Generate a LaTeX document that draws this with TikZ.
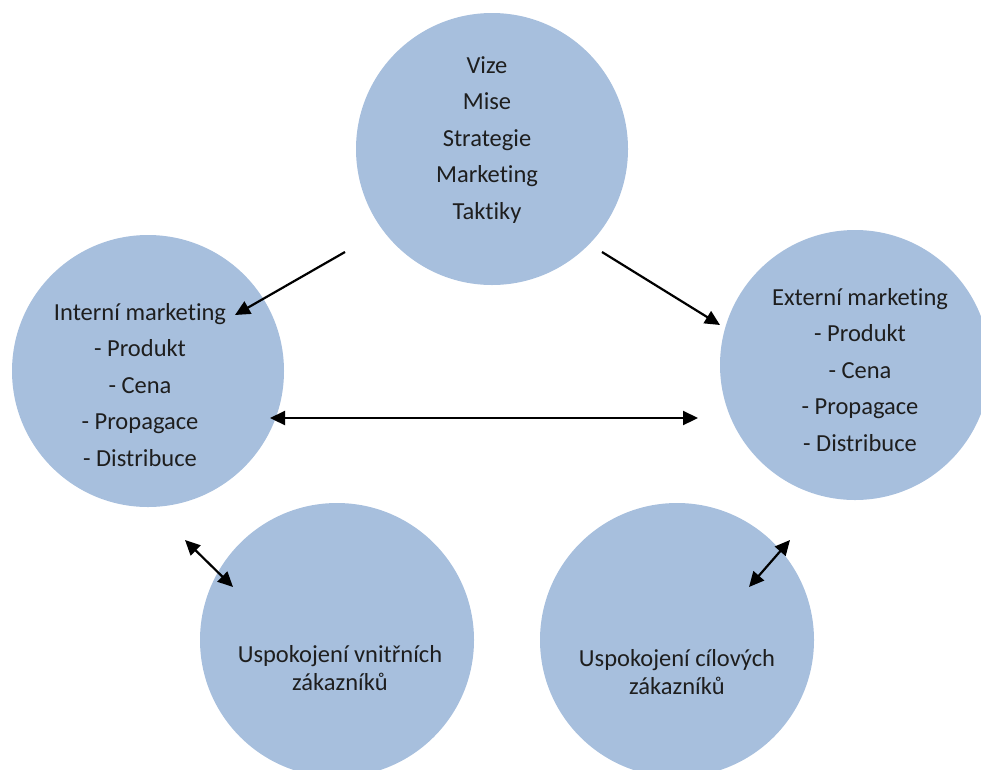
\documentclass[tikz,border=0pt]{standalone}
\usepackage{fontspec}
\setmainfont{Carlito}[Ligatures=NoCommon]
\usetikzlibrary{arrows.meta}
\definecolor{bub}{HTML}{A7BFDD}
\definecolor{txt}{HTML}{1E1E1E}
\tikzset{
  bubble/.style={circle, fill=bub, draw=none, inner sep=0pt},
  lbl/.style={align=center, text=txt, inner sep=0pt, font=\fontsize{24.5}{36.5}\selectfont},
  lbltwo/.style={align=center, text=txt, inner sep=0pt, font=\fontsize{24.5}{28}\selectfont},
  conn/.style={line width=2.2pt, -{Triangle[length=15pt,width=14pt]}},
  dconn/.style={line width=2.2pt, {Triangle[length=15pt,width=14pt]}-{Triangle[length=15pt,width=14pt]}}
}
\begin{document}
\begin{tikzpicture}[x=1pt,y=-1pt]
\useasboundingbox (0,0) rectangle (981,769);
\node[bubble, minimum size=272pt] (top) at (492,149) {};
\node[bubble, minimum size=272pt] (left) at (148,371) {};
\node[bubble, minimum size=270pt] (right) at (855,365) {};
\node[bubble, minimum size=274pt] (bl) at (337,640) {};
\node[bubble, minimum size=274pt] (br) at (677,640) {};

\node[lbl] (toptxt) at (487,140) {Vize\\Mise\\Strategie\\Marketing\\Taktiky};
\node[lbl] (lefttxt) at (140,385) {Interní marketing\\- Produkt\\- Cena\\- Propagace\\- Distribuce};
\node[lbl] (righttxt) at (860,370) {Externí marketing\\- Produkt\\- Cena\\- Propagace\\- Distribuce};
\node[lbltwo] (bltxt) at (340,668) {Uspokojení vnitřních\\zákazníků};
\node[lbltwo] (brtxt) at (677,672) {Uspokojení cílových\\zákazníků};

\coordinate (a1s) at (345,252);
\coordinate (a1e) at (235,315);
\coordinate (a2s) at (602,252);
\coordinate (a2e) at (720,325);
\coordinate (h1) at (270,418);
\coordinate (h2) at (698,418);
\coordinate (b1) at (185,540);
\coordinate (b2) at (233,587);
\coordinate (c1) at (790,540);
\coordinate (c2) at (749,587);

\draw[conn] (a1s) -- (a1e);
\draw[conn] (a2s) -- (a2e);
\draw[dconn] (h1) -- (h2);
\draw[dconn] (b1) -- (b2);
\draw[dconn] (c1) -- (c2);
\end{tikzpicture}
\end{document}
